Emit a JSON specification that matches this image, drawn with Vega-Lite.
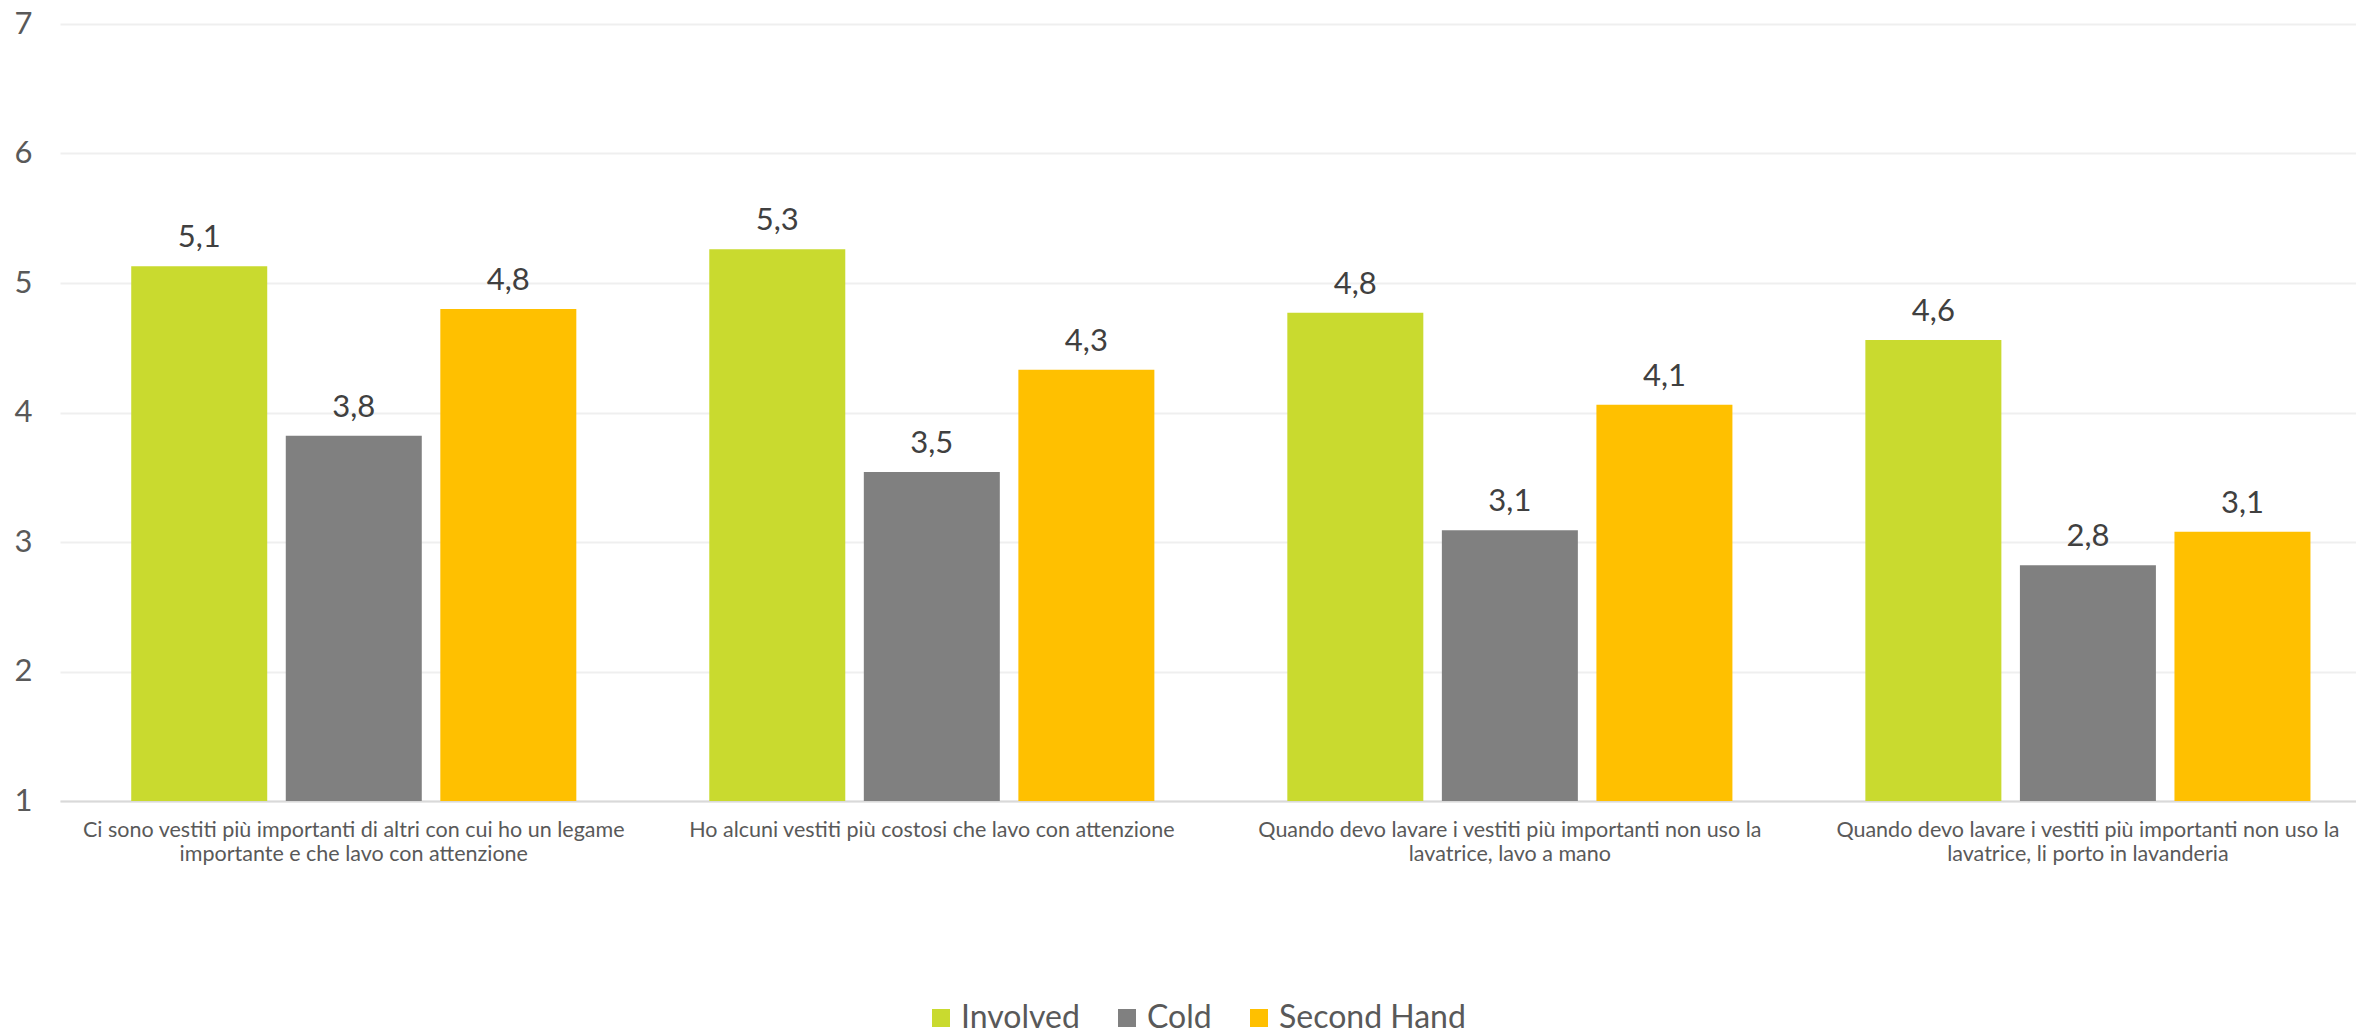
{
  "$schema": "https://vega.github.io/schema/vega-lite/v6.json",
  "autosize": "none",
  "width": 2296,
  "height": 777,
  "padding": {"left": 60, "top": 24, "right": 0, "bottom": 233},
  "background": "white",
  "config": {
    "font": "Lato",
    "view": {"stroke": null},
    "locale": {"number": {"decimal": ",", "thousands": ".", "grouping": [3], "currency": ["€", ""]}}
  },
  "data": {
    "values": [
      {"item": "Ci sono vestiti più importanti di altri con cui ho un legame importante e che lavo con attenzione", "gruppo": "Involved", "valore": 5.13},
      {"item": "Ci sono vestiti più importanti di altri con cui ho un legame importante e che lavo con attenzione", "gruppo": "Cold", "valore": 3.82},
      {"item": "Ci sono vestiti più importanti di altri con cui ho un legame importante e che lavo con attenzione", "gruppo": "Second Hand", "valore": 4.8},
      {"item": "Ho alcuni vestiti più costosi che lavo con attenzione", "gruppo": "Involved", "valore": 5.26},
      {"item": "Ho alcuni vestiti più costosi che lavo con attenzione", "gruppo": "Cold", "valore": 3.54},
      {"item": "Ho alcuni vestiti più costosi che lavo con attenzione", "gruppo": "Second Hand", "valore": 4.33},
      {"item": "Quando devo lavare i vestiti più importanti non uso la lavatrice, lavo a mano", "gruppo": "Involved", "valore": 4.77},
      {"item": "Quando devo lavare i vestiti più importanti non uso la lavatrice, lavo a mano", "gruppo": "Cold", "valore": 3.09},
      {"item": "Quando devo lavare i vestiti più importanti non uso la lavatrice, lavo a mano", "gruppo": "Second Hand", "valore": 4.06},
      {"item": "Quando devo lavare i vestiti più importanti non uso la lavatrice, li porto in lavanderia", "gruppo": "Involved", "valore": 4.56},
      {"item": "Quando devo lavare i vestiti più importanti non uso la lavatrice, li porto in lavanderia", "gruppo": "Cold", "valore": 2.82},
      {"item": "Quando devo lavare i vestiti più importanti non uso la lavatrice, li porto in lavanderia", "gruppo": "Second Hand", "valore": 3.08}
    ]
  },
  "encoding": {
    "x": {
      "field": "item",
      "type": "nominal",
      "sort": null,
      "scale": {"paddingInner": 0.23, "paddingOuter": 0.101, "align": 0.61},
      "axis": {
        "title": null,
        "labelAngle": 0,
        "labelFontSize": 21.5,
        "labelColor": "#595959",
        "labelPadding": 18,
        "labelLineHeight": 24,
        "labelLimit": 1000,
        "ticks": false,
        "domainColor": "#d9d9d9",
        "domainWidth": 2,
        "labelExpr": "length(datum.label) > 61 ? [substring(datum.label, 0, lastindexof(substring(datum.label, 0, 62), ' ')), substring(datum.label, lastindexof(substring(datum.label, 0, 62), ' ') + 1)] : datum.label"
      }
    },
    "xOffset": {
      "field": "gruppo",
      "type": "nominal",
      "sort": ["Involved", "Cold", "Second Hand"],
      "scale": {"paddingInner": 0.12, "paddingOuter": 0}
    },
    "y": {
      "field": "valore",
      "type": "quantitative",
      "scale": {"domain": [1, 7], "nice": false, "zero": false},
      "axis": {
        "title": null,
        "values": [1, 2, 3, 4, 5, 6, 7],
        "labelFontSize": 31,
        "labelColor": "#595959",
        "labelPadding": 28,
        "ticks": false,
        "domain": false,
        "gridColor": "#efefef",
        "gridWidth": 2
      }
    }
  },
  "layer": [
    {
      "mark": {"type": "bar"},
      "encoding": {
        "y2": {"datum": 1},
        "color": {
          "field": "gruppo",
          "type": "nominal",
          "sort": ["Involved", "Cold", "Second Hand"],
          "scale": {"domain": ["Involved", "Cold", "Second Hand"], "range": ["#C9DA2F", "#808080", "#FFC000"]},
          "legend": {
            "title": null,
            "orient": "none",
            "direction": "horizontal",
            "legendX": 865,
            "legendY": 978,
            "padding": 0,
            "symbolType": "square",
            "symbolSize": 324,
            "symbolStrokeWidth": 0,
            "symbolOpacity": 1,
            "labelFontSize": 32,
            "labelColor": "#595959",
            "labelOffset": 4,
            "columnPadding": 31,
            "labelLimit": 400
          }
        }
      }
    },
    {
      "mark": {"type": "text", "baseline": "alphabetic", "dy": -19, "fontSize": 31, "color": "#404040"},
      "encoding": {
        "text": {"field": "valore", "type": "quantitative", "format": ".1f"}
      }
    }
  ]
}
